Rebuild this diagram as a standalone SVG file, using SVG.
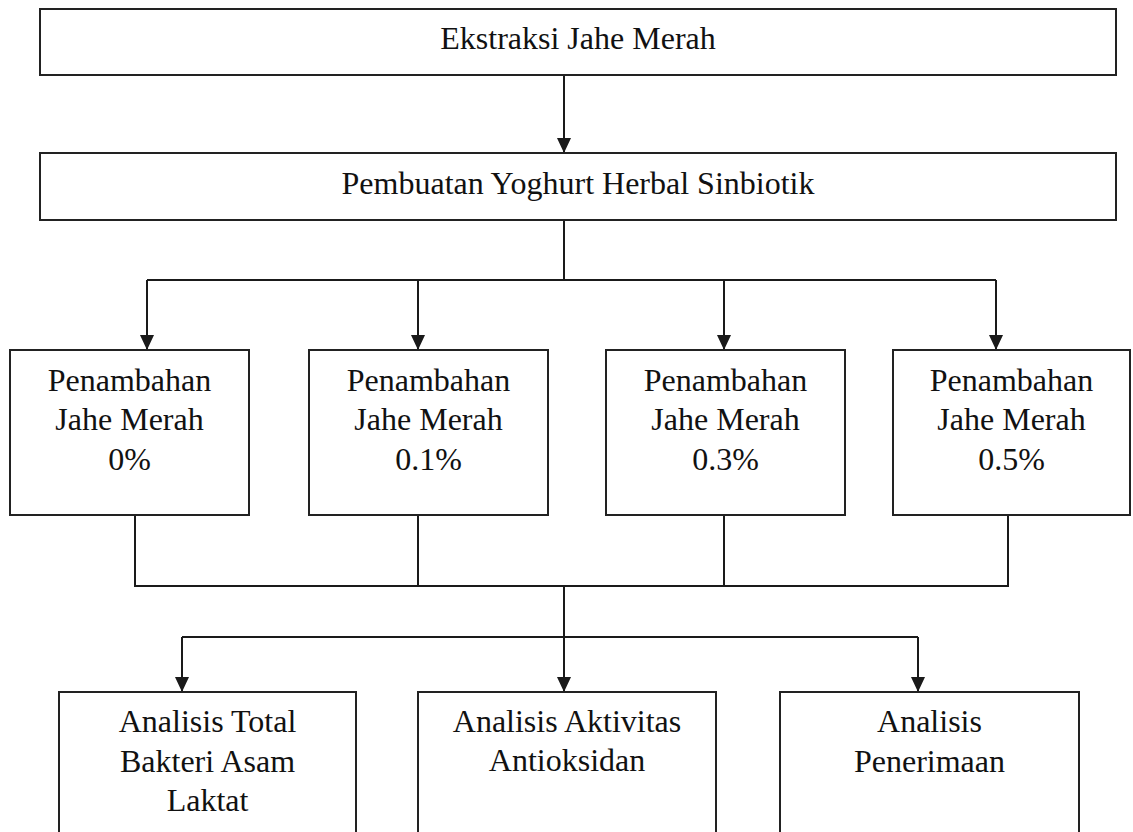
<svg xmlns="http://www.w3.org/2000/svg" width="1133" height="832" viewBox="0 0 1133 832">
<style>
.box{fill:#fff;stroke:#222;stroke-width:2}
.t{font-family:"Liberation Serif","Times New Roman",serif;font-size:32px;fill:#111;text-anchor:middle}
.c{fill:none;stroke:#1a1a1a;stroke-width:2}
</style>
<defs>
<marker id="ah" markerUnits="userSpaceOnUse" markerWidth="15" markerHeight="14" refX="15" refY="7" orient="auto" viewBox="0 0 15 14">
<path d="M0,0 L15,7 L0,14 z" fill="#1a1a1a"/>
</marker>
</defs>
<rect width="1133" height="832" fill="#fff"/>
<g id="connectors">
<line class="c" x1="564" y1="75" x2="564" y2="153" marker-end="url(#ah)"/>
<polyline class="c" points="564,220 564,280"/>
<polyline class="c" points="147,280 996,280"/>
<line class="c" x1="147" y1="280" x2="147" y2="350" marker-end="url(#ah)"/>
<line class="c" x1="418" y1="280" x2="418" y2="350" marker-end="url(#ah)"/>
<line class="c" x1="724" y1="280" x2="724" y2="350" marker-end="url(#ah)"/>
<line class="c" x1="996" y1="280" x2="996" y2="350" marker-end="url(#ah)"/>
<line class="c" x1="135" y1="515" x2="135" y2="586"/>
<line class="c" x1="418" y1="515" x2="418" y2="586"/>
<line class="c" x1="724" y1="515" x2="724" y2="586"/>
<line class="c" x1="1008" y1="515" x2="1008" y2="586"/>
<polyline class="c" points="134,586 1009,586"/>
<line class="c" x1="564" y1="586" x2="564" y2="692" marker-end="url(#ah)"/>
<polyline class="c" points="182,637 918,637"/>
<line class="c" x1="182" y1="637" x2="182" y2="692" marker-end="url(#ah)"/>
<line class="c" x1="918" y1="637" x2="918" y2="692" marker-end="url(#ah)"/>
</g>
<g id="n-ekstraksi">
<rect class="box" x="40" y="9" width="1076" height="66"/>
<text class="t" x="578" y="49">Ekstraksi Jahe Merah</text>
</g>
<g id="n-pembuatan">
<rect class="box" x="40" y="153" width="1076" height="67"/>
<text class="t" x="578" y="194">Pembuatan Yoghurt Herbal Sinbiotik</text>
</g>
<g id="n-p0">
<rect class="box" x="10" y="350" width="239" height="165"/>
<text class="t" x="129.5" y="390.5">Penambahan</text>
<text class="t" x="129.5" y="430">Jahe Merah</text>
<text class="t" x="129.5" y="470">0%</text>
</g>
<g id="n-p01">
<rect class="box" x="309" y="350" width="239" height="165"/>
<text class="t" x="428.5" y="390.5">Penambahan</text>
<text class="t" x="428.5" y="430">Jahe Merah</text>
<text class="t" x="428.5" y="470">0.1%</text>
</g>
<g id="n-p03">
<rect class="box" x="606" y="350" width="239" height="165"/>
<text class="t" x="725.5" y="390.5">Penambahan</text>
<text class="t" x="725.5" y="430">Jahe Merah</text>
<text class="t" x="725.5" y="470">0.3%</text>
</g>
<g id="n-p05">
<rect class="box" x="893" y="350" width="237" height="165"/>
<text class="t" x="1011.5" y="390.5">Penambahan</text>
<text class="t" x="1011.5" y="430">Jahe Merah</text>
<text class="t" x="1011.5" y="470">0.5%</text>
</g>
<g id="n-bal">
<rect class="box" x="59" y="692" width="297" height="160"/>
<text class="t" x="207.5" y="731.5">Analisis Total</text>
<text class="t" x="207.5" y="771.5">Bakteri Asam</text>
<text class="t" x="207.5" y="810.5">Laktat</text>
</g>
<g id="n-antioksidan">
<rect class="box" x="418" y="692" width="298" height="160"/>
<text class="t" x="567" y="731.5">Analisis Aktivitas</text>
<text class="t" x="567" y="771">Antioksidan</text>
</g>
<g id="n-penerimaan">
<rect class="box" x="780" y="692" width="299" height="160"/>
<text class="t" x="929.5" y="731.5">Analisis</text>
<text class="t" x="929.5" y="771.5">Penerimaan</text>
</g>
</svg>
